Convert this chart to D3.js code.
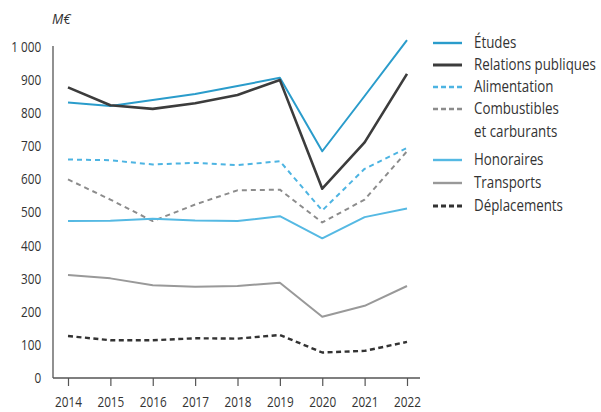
<!DOCTYPE html>
<html><head><meta charset="utf-8">
<script src="https://cdn.jsdelivr.net/npm/d3@7"></script>
<style>
body{margin:0;background:#fff;}
svg text{font-family:"Open Sans",sans-serif;fill:#333;}
</style></head>
<body><svg id="c" width="601" height="412"></svg>
<script>
const years = [2014,2015,2016,2017,2018,2019,2020,2021,2022];
const yTicks = [0,100,200,300,400,500,600,700,800,900,1000];
const etudes        = [832,822,840,858,882,907,685,852,1021];
const relations     = [878,824,813,830,855,900,572,712,919];
const alimentation  = [660,658,645,650,643,655,506,632,695];
const combustibles  = [600,539,474,524,567,569,470,539,685];
const honoraires    = [474,475,481,476,474,489,422,486,512];
const transports    = [311,301,280,276,278,288,185,218,278];
const deplacements  = [127,114,114,120,119,130,77,82,109];
const seriesNames = ["Études","Relations publiques","Alimentation","Combustibles\net carburants","Honoraires","Transports","Déplacements"];

const series = [
  {name:seriesNames[0], values:etudes,       color:"#2a9ccb", width:2,   dash:null},
  {name:seriesNames[1], values:relations,    color:"#3c3c3c", width:2.6, dash:null},
  {name:seriesNames[2], values:alimentation, color:"#4db4e2", width:2,   dash:"5,4"},
  {name:seriesNames[3], values:combustibles, color:"#8c8c8c", width:2,   dash:"5,4"},
  {name:seriesNames[4], values:honoraires,   color:"#55b9e3", width:2,   dash:null},
  {name:seriesNames[5], values:transports,   color:"#999999", width:2,   dash:null},
  {name:seriesNames[6], values:deplacements, color:"#333333", width:2.4, dash:"5,3.5"}
];

const SX = 0.84;
const svg = d3.select("#c");
const x = d3.scalePoint().domain(years).range([68,407]);
const y = d3.scaleLinear().domain([0,1000]).range([378,47]);

// axes
const fmt = d => d>=1000 ? d3.format(",")(d).replace(","," ") : String(d);
const gy = svg.append("g").attr("transform","translate(53,0)")
  .call(d3.axisLeft(y).tickValues(yTicks).tickSize(0).tickPadding(14).tickFormat(fmt));
gy.select(".domain").attr("stroke","#555").attr("stroke-width",1.3).attr("d","M0,46V378");
gy.selectAll("text").attr("font-size",14).attr("fill","#333").attr("transform",`scale(${SX},1)`);

const gx = svg.append("g").attr("transform","translate(0,378)")
  .call(d3.axisBottom(x).tickSize(8).tickPadding(11));
gx.select(".domain").attr("stroke","#555").attr("stroke-width",1.3).attr("d","M53,0H420");
gx.selectAll(".tick line").attr("stroke","#555").attr("stroke-width",1.2);
gx.selectAll("text").attr("font-size",14).attr("fill","#333").attr("transform",`scale(${SX},1)`);

svg.append("g").attr("transform","translate(52,24)").append("text")
  .attr("transform",`scale(0.9,1)`).attr("font-size",15)
  .attr("font-style","italic").attr("fill","#555").text("M€");

// lines
const line = d3.line().x((d,i)=>x(years[i])).y(d=>y(d));
series.forEach(s=>{
  svg.append("path").attr("d",line(s.values)).attr("fill","none")
    .attr("stroke",s.color).attr("stroke-width",s.width)
    .attr("stroke-dasharray",s.dash).attr("stroke-linejoin","round");
});

// legend
const legY = [43,65,87,109,160,183,206];
series.forEach((s,i)=>{
  const ly = legY[i];
  svg.append("line").attr("x1",433).attr("x2",462).attr("y1",ly).attr("y2",ly)
    .attr("stroke",s.color).attr("stroke-width",s.width+0.4).attr("stroke-dasharray",s.dash?"5,3":null);
  const parts = s.name.split("\n");
  parts.forEach((p,k)=>{
    svg.append("g").attr("transform",`translate(474,${ly+5+k*22.5})`)
      .append("text").attr("transform",`scale(0.86,1)`).attr("font-size",15.5).text(p);
  });
});
</script></body></html>
